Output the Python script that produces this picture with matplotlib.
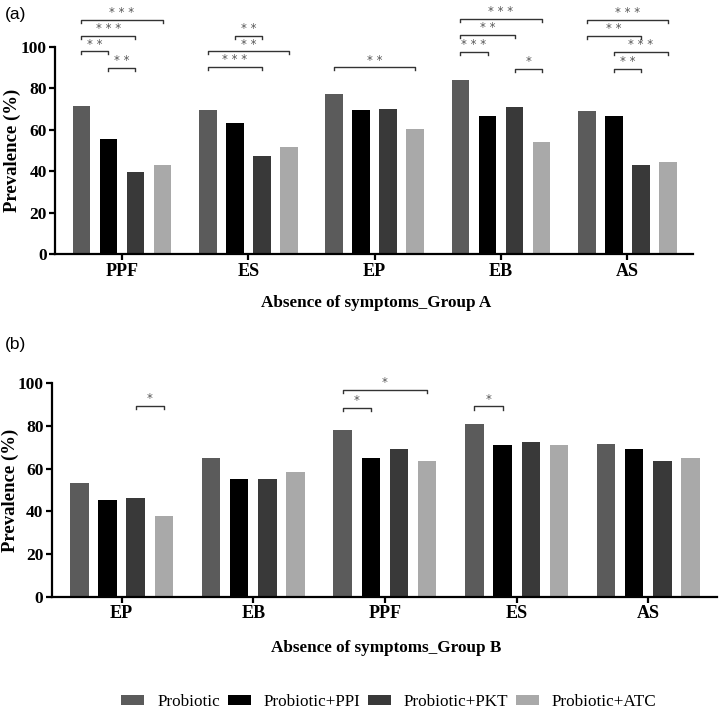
import numpy as np
import matplotlib.pyplot as plt

plt.rcParams['font.family'] = ['Liberation Serif', 'DejaVu Serif']

series = ['Probiotic', 'Probiotic+PPI', 'Probiotic+PKT', 'Probiotic+ATC']
colors = ['#5b5b5b', '#000000', '#393939', '#a9a9a9']

cats_a = ['PPF', 'ES', 'EP', 'EB', 'AS']
prob_a = [71.7, 69.7, 77.1, 83.9, 69.2]
ppi_a = [55.7, 63.3, 69.6, 66.5, 66.5]
pkt_a = [39.6, 47.3, 70.0, 71.2, 43.2]
atc_a = [43.2, 51.9, 60.5, 54.3, 44.4]

cats_b = ['EP', 'EB', 'PPF', 'ES', 'AS']
prob_b = [53.3, 65.1, 77.9, 80.8, 71.7]
ppi_b = [45.5, 55.1, 65.0, 71.2, 69.0]
pkt_b = [46.4, 55.1, 69.0, 72.3, 63.7]
atc_b = [38.0, 58.6, 63.4, 71.2, 65.1]

# (category, bar from, bar to, height, label)
sig_a = [(0, 0, 3, 113, '***'), (0, 0, 2, 105.5, '***'), (0, 0, 1, 98, '**'), (0, 1, 2, 90, '**'),
         (1, 1, 2, 105.5, '**'), (1, 0, 3, 98, '**'), (1, 0, 2, 90.5, '***'),
         (2, 0, 3, 90.2, '**'),
         (3, 0, 3, 113.5, '***'), (3, 0, 2, 105.8, '**'), (3, 0, 1, 97.6, '***'), (3, 2, 3, 89.4, '*'),
         (4, 0, 3, 113.2, '***'), (4, 0, 2, 105.5, '**'), (4, 1, 3, 97.6, '***'), (4, 1, 2, 89.5, '**')]
sig_b = [(0, 2, 3, 89.4, '*'), (2, 0, 3, 96.9, '*'), (2, 0, 1, 88.5, '*'), (3, 0, 1, 89.1, '*')]

fig = plt.figure(figsize=(7.19, 7.12), dpi=100)
ax_a = fig.add_axes([0.0765, 0.643, 0.8875, 0.291])
ax_b = fig.add_axes([0.072, 0.1615, 0.925, 0.3005])

d = 0.214
w = 0.14


def draw(ax, cats, vals, sigs, xlabel, ylab_x):
    x = np.arange(len(cats))
    for i, v in enumerate(vals):
        ax.bar(x + (i - 1.5) * d, v, w, color=colors[i], label=series[i])
    ax.set_xlim(-0.53, 4.52)
    ax.set_ylim(0, 100)
    ax.set_yticks([0, 20, 40, 60, 80, 100])
    ax.set_xticks(x)
    ax.set_xticklabels(cats, fontweight='bold', fontsize=13)
    for lab in ax.get_yticklabels():
        lab.set_fontweight('bold')
        lab.set_fontsize(12.5)
    ax.spines['top'].set_visible(False)
    ax.spines['right'].set_visible(False)
    ax.spines['left'].set_linewidth(1.6)
    ax.spines['bottom'].set_linewidth(1.6)
    ax.tick_params(axis='both', width=1.6, length=4, pad=2)
    ax.set_ylabel('Prevalence (%)', fontweight='bold', fontsize=13.5)
    ax.yaxis.set_label_coords(ylab_x, 0.5)
    ax.yaxis.label.set_va('center')
    ax.set_xlabel(xlabel, fontweight='bold', fontsize=12.3)
    ax.xaxis.set_label_coords(0.503, -0.237)
    ax.xaxis.label.set_va('center')
    for c, i, j, h, s in sigs:
        x1 = c + (i - 1.5) * d
        x2 = c + (j - 1.5) * d
        ax.plot([x1, x1, x2, x2], [h - 1.5, h, h, h - 1.5], color='#333333', lw=1, clip_on=False)
        ax.text((x1 + x2) / 2, h + 0.3, ' '.join(s), ha='center', va='bottom', fontsize=8.5,
                color='#555555', family='DejaVu Sans')


draw(ax_a, cats_a, [prob_a, ppi_a, pkt_a, atc_a], sig_a, 'Absence of symptoms_Group A', -0.067)
draw(ax_b, cats_b, [prob_b, ppi_b, pkt_b, atc_b], sig_b, 'Absence of symptoms_Group B', -0.062)

fig.text(0.007, 0.979, '(a)', fontsize=12.5, family='Liberation Sans', va='center')
fig.text(0.007, 0.516, '(b)', fontsize=12.5, family='Liberation Sans', va='center')

handles, labels = ax_b.get_legend_handles_labels()
fig.legend(handles, labels, loc='center', bbox_to_anchor=(0.541, 0.014), ncol=4, frameon=False,
           fontsize=12.3, handlelength=1.35, handleheight=0.6, columnspacing=0.45,
           handletextpad=0.75, borderpad=0.1)

fig.savefig('out.png', dpi=100)
